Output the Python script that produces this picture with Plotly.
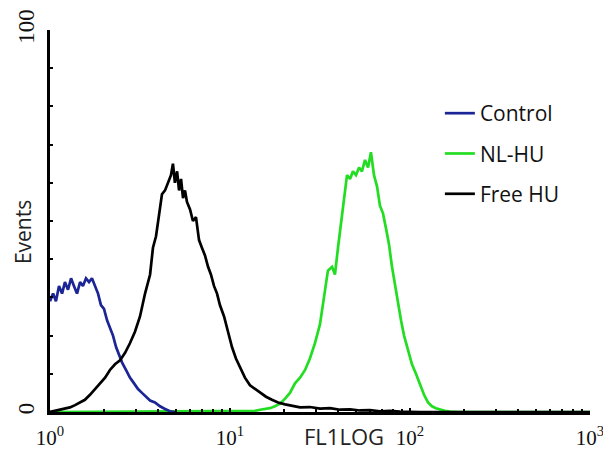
import plotly.graph_objects as go

# FL1 channel positions in decades (log10 of FL1) and event counts
control_log = [0.0, 0.017, 0.033, 0.05, 0.067, 0.083, 0.1, 0.117, 0.133, 0.15, 0.167, 0.183,
               0.2, 0.217, 0.233, 0.25, 0.267, 0.283, 0.3, 0.317, 0.333, 0.35, 0.367, 0.383,
               0.4, 0.422, 0.444, 0.467, 0.489, 0.511, 0.533, 0.556, 0.583, 0.611, 0.639, 0.667, 0.694]
control_y = [29, 31, 29, 33, 31, 34, 32, 35, 33, 31, 34, 33,
             35, 34, 35, 33, 31, 28, 27, 24, 22, 20, 17, 15,
             13, 11, 9, 7.5, 6, 5, 4, 3, 2.5, 1.5, 0.8, 0.2, 0]

nlhu_log = [0.0, 1.139, 1.167, 1.194, 1.222, 1.25, 1.278, 1.306, 1.333, 1.361, 1.389, 1.417,
            1.444, 1.472, 1.5, 1.522, 1.544, 1.567, 1.583, 1.6, 1.617, 1.633, 1.65, 1.667,
            1.683, 1.7, 1.717, 1.733, 1.75, 1.767, 1.783, 1.8, 1.817, 1.833, 1.85, 1.867,
            1.883, 1.9, 1.917, 1.933, 1.95, 1.967, 1.989, 2.011, 2.033, 2.056, 2.078, 2.1,
            2.122, 2.144, 2.167, 2.194, 2.222, 2.278, 3.0]
nlhu_y = [0, 0.3, 0.6, 0.8, 1.0, 1.5, 2.2, 3.5, 5, 7.5, 9, 11,
          14, 18, 23, 30, 37, 38, 36, 43, 50, 56, 62, 61,
          63, 62, 64, 63, 66, 64, 68, 62, 59, 54, 52, 48,
          44, 38, 33, 28, 24, 20, 16, 12.5, 10, 7, 4.5, 2.5,
          1.5, 1.0, 0.6, 0.3, 0.1, 0, 0]

freehu_log = [0.0, 0.028, 0.056, 0.083, 0.111, 0.139, 0.167, 0.194, 0.222, 0.25, 0.278, 0.306,
              0.333, 0.361, 0.389, 0.417, 0.444, 0.472, 0.5, 0.528, 0.556, 0.572, 0.589, 0.606,
              0.622, 0.639, 0.656, 0.672, 0.683, 0.694, 0.706, 0.717, 0.728, 0.739, 0.75, 0.761,
              0.778, 0.794, 0.811, 0.828, 0.844, 0.861, 0.878, 0.894, 0.911, 0.928, 0.944, 0.967,
              0.989, 1.011, 1.033, 1.056, 1.083, 1.111, 1.139, 1.167, 1.2, 1.233, 1.267, 1.306,
              1.344, 1.389, 1.444, 1.5, 1.556, 1.611, 1.667, 1.722, 1.778, 1.833, 1.889, 1.944,
              2.056, 3.0]
freehu_y = [0, 0.3, 0.5, 0.8, 1.2, 1.8, 2.5, 3.2, 4.5, 6, 7.5, 9,
            11, 12.5, 13.5, 15.5, 18, 21, 25, 31, 36, 43, 46, 52,
            57, 58, 60, 62, 65, 60, 63, 58, 61, 56, 58, 55,
            53, 50, 51, 45, 43, 41, 38, 36, 33, 31, 28, 25,
            21, 17, 14, 11.5, 9, 7, 6, 5, 4, 3.2, 2.5, 2,
            1.6, 1.2, 1.3, 0.9, 1.0, 0.6, 0.7, 0.4, 0.5, 0.2, 0.3, 0.1,
            0, 0]

tick_vals = [1, 10, 100, 1000]
tick_text = ["10<sup>0</sup>", "10<sup>1</sup>", "10<sup>2</sup>", "10<sup>3</sup>"]
y_tick_vals = [0, 100]
y_tick_text = ["0", "100"]

BLUE = "#1c2595"
GREEN = "#22dd22"
BLACK = "#000000"

def fl1(logs):
    return [10 ** v for v in logs]

fig = go.Figure()
fig.add_trace(go.Scatter(x=fl1(nlhu_log), y=nlhu_y, mode="lines", name="NL-HU",
                         line=dict(color=GREEN, width=2.7), legendgroup="b", legendrank=2))
fig.add_trace(go.Scatter(x=fl1(control_log), y=control_y, mode="lines", name="Control",
                         line=dict(color=BLUE, width=2.7), legendgroup="a", legendrank=1))
fig.add_trace(go.Scatter(x=fl1(freehu_log), y=freehu_y, mode="lines", name="Free HU",
                         line=dict(color=BLACK, width=2.7), legendgroup="c", legendrank=3))

serif = "Liberation Serif, Times New Roman, serif"
sans = "Open Sans, Noto Sans, sans-serif"

# the page body adds an 8px offset, so the figure is sized to fit the window after it
fig.update_layout(
    width=603, height=443,
    margin=dict(l=42, r=21, t=22, b=39),
    paper_bgcolor="white", plot_bgcolor="white",
    showlegend=True,
    legend=dict(x=0.722, y=0.835, xanchor="left", yanchor="top",
                font=dict(family=sans, size=21, color="#111111"),
                tracegroupgap=10, itemwidth=30, bgcolor="rgba(0,0,0,0)"),
    xaxis=dict(type="log", range=[0, 3], showgrid=False, zeroline=False, automargin=False,
               showline=True, linecolor="black", linewidth=3,
               tickvals=tick_vals, ticktext=tick_text,
               ticks="inside", ticklen=4, tickwidth=2, tickcolor="black",
               ticklabelstandoff=5,
               tickfont=dict(family=serif, size=21, color="#111111"),
               minor=dict(ticks="inside", ticklen=3, tickcolor="black", tickwidth=1.5, dtick="D1")),
    yaxis=dict(range=[0, 100], showgrid=False, zeroline=False, automargin=False,
               showline=True, linecolor="black", linewidth=3,
               tickvals=y_tick_vals, ticktext=y_tick_text,
               ticks="inside", ticklen=4, tickwidth=2, tickcolor="black",
               tickangle=-90, ticklabelstandoff=4,
               tickfont=dict(family=serif, size=23, color="#111111"),
               minor=dict(ticks="inside", ticklen=3, tickcolor="black", tickwidth=1.5, dtick=10)),
    annotations=[
        dict(text="Events", x=-0.05, y=0.471, xref="paper", yref="paper", showarrow=False,
             xanchor="center", yanchor="middle", textangle=-90,
             font=dict(family=sans, size=21, color="#222222")),
        dict(text="FL1LOG", x=0.544, y=-0.0628, xref="paper", yref="paper", showarrow=False,
             xanchor="center", yanchor="middle",
             font=dict(family=sans, size=22, color="#222222")),
    ],
)

fig.write_html("out.html")
